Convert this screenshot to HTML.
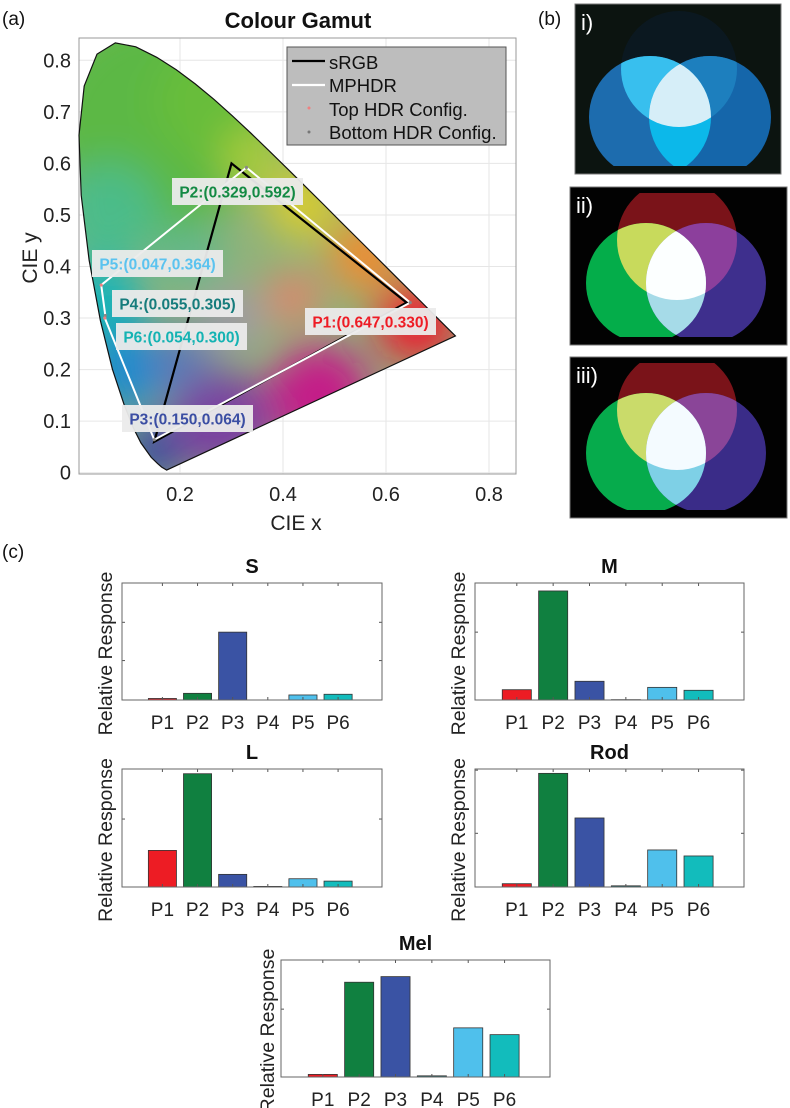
<!DOCTYPE html>
<html><head><meta charset="utf-8"><style>
body{margin:0;background:#fff;width:790px;height:1108px;overflow:hidden;font-family:"Liberation Sans",sans-serif}
svg{position:absolute;left:0;top:0}
</style></head><body>
<svg id="root" width="790" height="1108" viewBox="0 0 790 1108"></svg>
<script>
// ---------- Panel (a) data ----------
const locusX=[0.1741,0.1644,0.1566,0.1440,0.1241,0.1096,0.0913,0.0687,0.0454,0.0235,0.0082,0.0039,0.0139,0.0389,0.0743,0.1142,0.1547,0.1929,0.2296,0.2658,0.3016,0.3373,0.3731,0.4087,0.4441,0.4788,0.5125,0.5448,0.5752,0.6029,0.6270,0.6658,0.6915,0.7190,0.7347];
const locusY=[0.0050,0.0109,0.0177,0.0297,0.0578,0.0868,0.1327,0.2007,0.2950,0.4127,0.5384,0.6548,0.7502,0.8120,0.8338,0.8262,0.8059,0.7816,0.7543,0.7243,0.6923,0.6589,0.6245,0.5896,0.5547,0.5202,0.4866,0.4544,0.4242,0.3965,0.3725,0.3340,0.3083,0.2809,0.2653];
const srgbX=[0.64,0.30,0.15];
const srgbY=[0.33,0.60,0.06];
const primNames=["P1","P2","P3","P4","P5","P6"];
const primX=[0.647,0.329,0.150,0.055,0.047,0.054];
const primY=[0.330,0.592,0.064,0.305,0.364,0.300];
const mphdrOrder=[0,1,4,3,5,2,0];
const xTicks=[0.2,0.4,0.6,0.8];
const yTicks=[0,0.1,0.2,0.3,0.4,0.5,0.6,0.7,0.8];
// ---------- Panel (c) data (fraction of axis height) ----------
const barCats=["P1","P2","P3","P4","P5","P6"];
const sValues=[0.013,0.057,0.58,0.0,0.043,0.049];
const mValues=[0.088,0.932,0.16,0.003,0.108,0.083];
const lValues=[0.31,0.96,0.107,0.005,0.07,0.05];
const rodValues=[0.028,0.963,0.585,0.01,0.314,0.263];
const melValues=[0.022,0.81,0.858,0.01,0.42,0.362];
const sTicks=[0.337,0.664];
const mTicks=[0.58];
const lTicks=[0.576];
const rodTicks=[0.455,0.99];
const melTicks=[0.58];

const NS="http://www.w3.org/2000/svg";
const root=document.getElementById('root');
function el(tag,attrs,parent){const e=document.createElementNS(NS,tag);for(const k in attrs)e.setAttribute(k,attrs[k]);(parent||root).appendChild(e);return e;}
function txt(s,attrs,parent){const e=el('text',attrs,parent);e.textContent=s;return e;}

const defs=el('defs',{});
// ---------- Panel (a) ----------
const sx=x=>77+515*x, sy=y=>472.7-515.5*y;
const AL=79,AR=516,AT=38,AB=474;
txt("(a)",{x:2,y:25,'font-size':19,fill:'#111',});
txt("Colour Gamut",{x:298,y:28,'font-size':22,'font-weight':'bold','text-anchor':'middle',fill:'#111',});
const ga=el('g',{});
el('rect',{x:AL,y:AT,width:AR-AL,height:AB-AT,fill:'#fff'},ga);
xTicks.forEach(t=>{el('line',{x1:sx(t),x2:sx(t),y1:AT,y2:AB,stroke:'#e6e6e6','stroke-width':1},ga);
 const l=txt(t.toFixed(1),{x:sx(t),y:AB+27,'font-size':20,'text-anchor':'middle',fill:'#222'},ga);
 });
yTicks.forEach(t=>{el('line',{x1:AL,x2:AR,y1:sy(t),y2:sy(t),stroke:'#e6e6e6','stroke-width':1},ga);
 const l=txt(t===0?"0":t.toFixed(1),{x:AL-8,y:sy(t)+7,'font-size':20,'text-anchor':'end',fill:'#222'},ga);
 });
el('rect',{x:AL,y:AT,width:AR-AL,height:AB-AT,fill:'none',stroke:'#999','stroke-width':1},ga);
txt("CIE x",{x:296,y:530,'font-size':21,'text-anchor':'middle',fill:'#222',});
txt("CIE y",{x:0,y:0,'font-size':21,'text-anchor':'middle',fill:'#222',transform:'translate(37,258) rotate(-90)',});
// locus
let pts=locusX.map((x,i)=>sx(x).toFixed(1)+","+sy(locusY[i]).toFixed(1)).join(" ");
const cp=el('clipPath',{id:'locusClip'},defs);el('polygon',{points:pts},cp);
const blur=el('filter',{id:'bl',x:'-50%',y:'-50%',width:'200%',height:'200%'},defs);el('feGaussianBlur',{stdDeviation:20},blur);
const lg=el('g',{'clip-path':'url(#locusClip)',});
el('polygon',{points:pts,fill:'#8fb27a'},lg);
const blobs=el('g',{filter:'url(#bl)'},lg);
[[0.15,0.68,0.22,'#5cb845'],[0.27,0.72,0.12,'#67bd3a'],[0.06,0.5,0.1,'#4cbc8a'],[0.05,0.33,0.08,'#18b4b8'],[0.1,0.2,0.08,'#168ad0'],
 [0.15,0.04,0.06,'#3348a0'],[0.28,0.1,0.1,'#7a40a0'],[0.47,0.15,0.1,'#c41c88'],[0.66,0.29,0.08,'#ea2030'],[0.56,0.42,0.07,'#f08c30'],
 [0.44,0.52,0.07,'#d8cc30'],[0.34,0.61,0.06,'#a8cc3a'],[0.42,0.34,0.05,'#e8806a'],[0.3,0.3,0.06,'#a098a8'],[0.22,0.42,0.06,'#60b890'],[0.2,0.22,0.06,'#5a78b8']]
 .forEach(b=>el('circle',{cx:sx(b[0]),cy:sy(b[1]),r:b[2]*515,fill:b[3]},blobs));
el('polygon',{points:pts,fill:'none',stroke:'#111','stroke-width':1.2,});
el('polygon',{points:srgbX.map((x,i)=>sx(x)+","+sy(srgbY[i])).join(" "),fill:'none',stroke:'#000','stroke-width':2.2,});
el('polyline',{points:mphdrOrder.map(i=>sx(primX[i])+","+sy(primY[i])).join(" "),fill:'none',stroke:'#fff','stroke-width':2,});
primX.forEach((x,i)=>{const d=el('circle',{cx:sx(x),cy:sy(primY[i]),r:1.6,fill:i===4||i===5?'#f08080':'#888'});
 });
// labels
const labColors=['#ee1c25','#138a43','#3b4ea3','#167c7c','#5bc3ef','#14b3b3'];
const labBox=[[305,308],[172,178],[122,405],[112,290],[92,250],[116,323]];
primNames.forEach((n,i)=>{const g=el('g',{});
 el('rect',{x:labBox[i][0],y:labBox[i][1],width:131,height:27,fill:'#ebebeb','fill-opacity':0.95},g);
 txt(n+":("+primX[i].toFixed(3)+","+primY[i].toFixed(3)+")",{x:labBox[i][0]+65.5,y:labBox[i][1]+19.5,'font-size':15.5,'font-weight':'bold','text-anchor':'middle',fill:labColors[i]},g);});
// legend
const lgd=el('g',{});
el('rect',{x:287,y:47,width:219,height:98,fill:'#bdbdbd',stroke:'#555','stroke-width':1},lgd);
el('line',{x1:292,x2:325,y1:61,y2:61,stroke:'#000','stroke-width':2.2},lgd);
el('line',{x1:292,x2:325,y1:85,y2:85,stroke:'#fff','stroke-width':2.2},lgd);
el('circle',{cx:309,cy:108,r:1.5,fill:'#f08080'},lgd);el('circle',{cx:309,cy:132,r:1.5,fill:'#777'},lgd);
[["sRGB",69],["MPHDR",92],["Top HDR Config.",116],["Bottom HDR Config.",139]].forEach(e=>{const t=txt(e[0],{x:329,y:e[1],'font-size':18.5,fill:'#111'},lgd);});

// ---------- Panel (b) ----------
txt("(b)",{x:538,y:25,'font-size':19,fill:'#111',});
let cid=0;
function photo(name,bx,by,bw,bh,bg,label,top,left,right,cols){
 const g=el('g',{});
 el('rect',{x:bx,y:by,width:bw,height:bh,fill:bg,stroke:'#777','stroke-width':1},g);
 const clipId='pc'+(cid++);const c=el('clipPath',{id:clipId},defs);el('rect',{x:bx+8,y:by+6,width:bw-16,height:bh-14},c);
 const inner=el('g',{'clip-path':'url(#'+clipId+')'},g);
 const circ=[top,left,right];const ids=circ.map((cc,i)=>{const id='cc'+(cid++);const p=el('clipPath',{id:id},defs);el('circle',{cx:cc[0],cy:cc[1],r:cc[2]},p);return id;});
 const draw=(c,fill,clips)=>{let parent=inner;clips.forEach(id=>{parent=el('g',{'clip-path':'url(#'+id+')'},parent);});el('circle',{cx:c[0],cy:c[1],r:c[2],fill:fill},parent);};
 draw(top,cols[0],[]);draw(left,cols[1],[]);draw(right,cols[2],[]);
 draw(left,cols[3],[ids[0]]);draw(right,cols[4],[ids[0]]);draw(right,cols[5],[ids[1]]);draw(right,cols[6],[ids[0],ids[1]]);
 txt(label,{x:bx+6,y:by+26,'font-size':22,fill:'#fff'},g);
}
photo('photo-i',575,4,206,170,'#0c1410','i)',[679,69,58],[650,117,61],[710,117,61],['#0b1820','#1d6cae','#1566aa','#38bfee','#1d7fbe','#0cb8ea','#d6eef8']);
photo('photo-ii',570,187,217,158,'#020202','ii)',[677,240,60],[646,283,60],[706,283,60],['#7a1319','#04ad4a','#3e2f8d','#c8da5c','#8c3f9c','#a6dbe8','#fcffff']);
photo('photo-iii',570,357,217,161,'#020202','iii)',[677,410,60],[646,453,60],[706,453,60],['#7a1319','#06ab4c','#3a2c88','#cadb6a','#8a4598','#7ed0e6','#f4fbff']);

// ---------- Panel (c) ----------
txt("(c)",{x:2,y:558,'font-size':19,fill:'#111',});
const barColors=['#ed1c24','#108040','#3a53a4','#1a7a7a','#4fc0ec','#12bcbc'];
function barChart(name,title,L,R,T,B,vals,ticks,ylabX){
 const g=el('g',{});
 const w=R-L,h=B-T,step=w/7.4;
 const bx=i=>L+step*(i+1.15), by=v=>B-v*h;
 el('rect',{x:L,y:T,width:w,height:h,fill:'#fff'},g);
 barCats.forEach((c,i)=>{const r=el('rect',{x:bx(i)-step*0.4,y:by(vals[i]),width:step*0.8,height:B-by(vals[i]),fill:barColors[i],stroke:'#333','stroke-width':0.8},g);
  
  el('line',{x1:bx(i),x2:bx(i),y1:T,y2:T+3,stroke:'#555'},g);el('line',{x1:bx(i),x2:bx(i),y1:B,y2:B-3,stroke:'#555'},g);
  const t=txt(c,{x:bx(i),y:B+29,'font-size':19,'text-anchor':'middle',fill:'#222'},g);});
 ticks.forEach(t=>{el('line',{x1:L,x2:L+3,y1:by(t),y2:by(t),stroke:'#555'},g);el('line',{x1:R,x2:R-3,y1:by(t),y2:by(t),stroke:'#555'},g);});
 el('rect',{x:L,y:T,width:w,height:h,fill:'none',stroke:'#666','stroke-width':1},g);
 const tt=txt(title,{x:(L+R)/2,y:T-10,'font-size':20,'font-weight':'bold','text-anchor':'middle',fill:'#111'},g);
 const yl=txt("Relative Response",{x:0,y:0,'font-size':19.5,'text-anchor':'middle',fill:'#222',transform:'translate('+(ylabX+7)+','+((T+B)/2+12)+') rotate(-90)'},g);
 
}
barChart('chart-s','S',122,382,583,700,sValues,sTicks,105);
barChart('chart-m','M',475,744,583,700,mValues,mTicks,458);
barChart('chart-l','L',122,382,769,887,lValues,lTicks,105);
barChart('chart-rod','Rod',475,744,769,887,rodValues,rodTicks,458);
barChart('chart-mel','Mel',281,550,960,1077,melValues,melTicks,267);
</script>
</body></html>
